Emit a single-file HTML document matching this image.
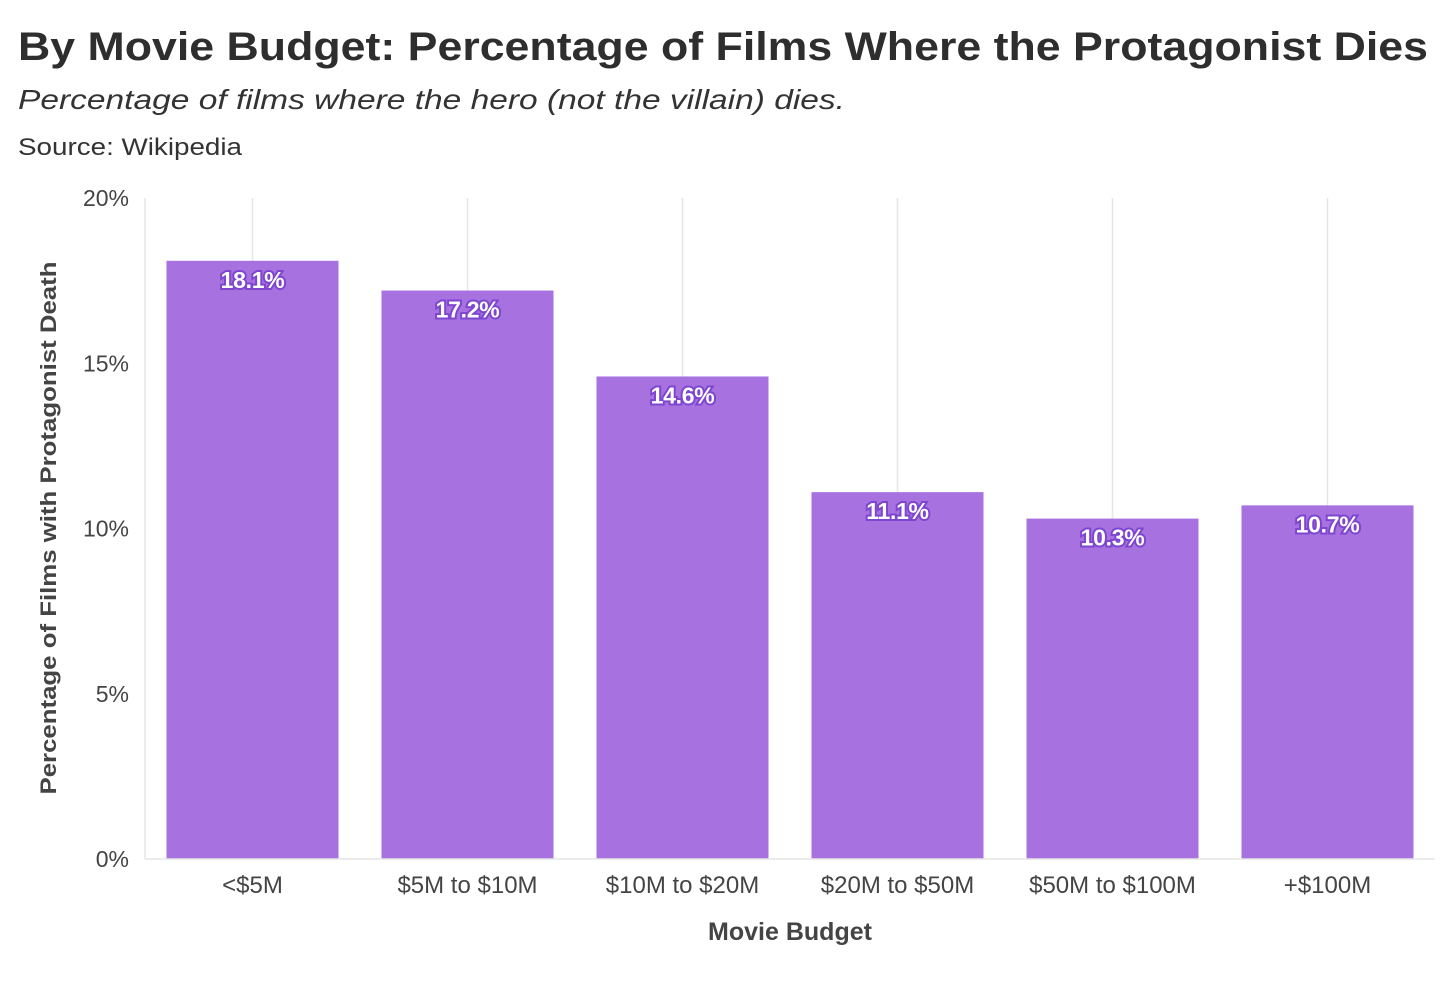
<!DOCTYPE html>
<html><head><meta charset="utf-8"><style>
body{margin:0;background:#fff;font-family:"Liberation Sans",sans-serif;color:#333}
svg text{font-family:"Liberation Sans",sans-serif}
</style></head><body>
<svg width="1456" height="981">
<text x="18" y="60" font-size="40" font-weight="bold" fill="#2e2e2e" textLength="1410" lengthAdjust="spacingAndGlyphs">By Movie Budget: Percentage of Films Where the Protagonist Dies</text>
<text x="18" y="109" font-size="28" font-style="italic" fill="#333" textLength="827" lengthAdjust="spacingAndGlyphs">Percentage of films where the hero (not the villain) dies.</text>
<text x="18" y="155" font-size="24" fill="#333" textLength="224" lengthAdjust="spacingAndGlyphs">Source: Wikipedia</text>
<g id="plot"></g>
<text x="790" y="940" font-size="25" font-weight="bold" text-anchor="middle" fill="#444">Movie Budget</text>
<text transform="translate(56,528) rotate(-90)" font-size="22" font-weight="bold" text-anchor="middle" fill="#444" textLength="533" lengthAdjust="spacingAndGlyphs">Percentage of Films with Protagonist Death</text>
</svg>
<script>
const categories=["<$5M","$5M to $10M","$10M to $20M","$20M to $50M","$50M to $100M","+$100M"];
const values=[18.1,17.2,14.6,11.1,10.3,10.7];
const yTicks=[0,5,10,15,20];
const NS="http://www.w3.org/2000/svg";
const g=document.getElementById("plot");
const x0=145,x1=1435,yb=859,yt=198,ymax=20;
const band=(x1-x0)/categories.length;
const xc=i=>x0+band*(i+0.5);
const y=v=>yb-(v/ymax)*(yb-yt);
function mk(t,a){const e=document.createElementNS(NS,t);for(const k in a)e.setAttribute(k,a[k]);g.appendChild(e);return e;}
categories.forEach((c,i)=>{
 const l=mk("line",{x1:xc(i),x2:xc(i),y1:yt,y2:yb,stroke:"#e6e6e6","stroke-width":1.5});
 
 
});
const ax=mk("line",{x1:x0,x2:x0,y1:yt,y2:yb,stroke:"#e6e6e6","stroke-width":1.5});


yTicks.forEach(t=>{
 const e=mk("text",{x:129,y:y(t)+8,"font-size":23,"text-anchor":"end",fill:"#444"});e.textContent=t+"%";
 
 
});
const bw=band*0.8;
values.forEach((v,i)=>{
 const r=mk("rect",{x:xc(i)-bw/2,y:y(v),width:bw,height:yb-y(v),fill:"#a772e0"});
 
 
 const t=mk("text",{x:xc(i),y:y(v)+27,"font-size":23,"font-weight":"bold","text-anchor":"middle",fill:"#fff",stroke:"#7e45d0","stroke-width":4,"paint-order":"stroke","letter-spacing":"-0.3"});
 t.textContent=v.toFixed(1)+"%";
 
 
 const c=mk("text",{x:xc(i),y:893,"font-size":24,"text-anchor":"middle",fill:"#444"});c.textContent=categories[i];
 
 
});
const bl=mk("line",{x1:x0,x2:x1,y1:yb,y2:yb,stroke:"#e6e6e6","stroke-width":1.5});


</script>
</body></html>
